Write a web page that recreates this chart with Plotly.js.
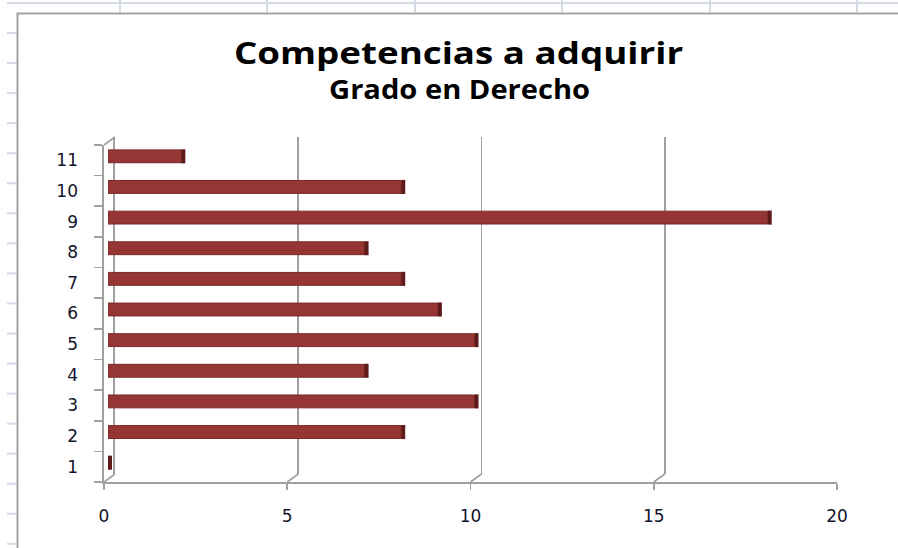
<!DOCTYPE html>
<html>
<head>
<meta charset="utf-8">
<script src="https://cdn.plot.ly/plotly-3.0.1.min.js"></script>
<style>
html,body{margin:0;padding:0;background:#fff;}
#chart{width:898px;height:548px;}
#chart .gtitle{transform-box:fill-box;transform-origin:center;transform:scaleX(1.185);}
#chart .annotation-text{transform-box:fill-box;transform-origin:center;transform:scaleX(1.12);}
</style>
</head>
<body>
<div id="chart"></div>
<script>
// ---- data ----
const categories = ['1','2','3','4','5','6','7','8','9','10','11'];
const values = [0, 8, 10, 7, 10, 9, 8, 7, 18, 8, 2];
const xTickVals = [0, 5, 10, 15, 20];
const xTickText = ['0', '5', '10', '15', '20'];
const titleText = 'Competencias a adquirir';
const subtitleText = 'Grado en Derecho';

// ---- geometry helpers (pixels -> paper) ----
const W = 898, H = 548;
const fx = x => x / W;
const fy = y => 1 - y / H;
const DEPTH_X = 11, DEPTH_Y = 8;   // 3-D depth offset of back wall
const FRONT = {x0: 104, x1: 837, yTop: 145, yBot: 482};

const shapes = [];
// spreadsheet background grid
const sheetLine = '#d5dbe6';
shapes.push({type:'line', xref:'paper', yref:'paper', x0:fx(7), x1:1, y0:fy(3), y1:fy(3), line:{color:sheetLine, width:2}, layer:'below'});
[120, 267, 415, 562, 710, 857].forEach(c => shapes.push({type:'line', xref:'paper', yref:'paper', x0:fx(c), x1:fx(c), y0:1, y1:fy(13), line:{color:sheetLine, width:2}, layer:'below'}));
for (let r = 33; r < H; r += 30.05) shapes.push({type:'line', xref:'paper', yref:'paper', x0:fx(7), x1:fx(17), y0:fy(r), y1:fy(r), line:{color:sheetLine, width:2}, layer:'below'});
// chart frame
shapes.push({type:'rect', xref:'paper', yref:'paper', x0:fx(17.5), x1:fx(910), y0:fy(13.5), y1:fy(560), line:{color:'#a3a3a3', width:2}, fillcolor:'#ffffff', layer:'below'});

// 3-D box connectors
const boxLine = {color:'#a0a0a0', width:1.6};
shapes.push({type:'line', xref:'paper', yref:'paper', x0:fx(FRONT.x0), y0:fy(FRONT.yTop), x1:fx(FRONT.x0 + DEPTH_X), y1:fy(FRONT.yTop - DEPTH_Y), line:boxLine});
xTickVals.forEach(v => shapes.push({type:'line', xref:'x', yref:'paper', xsizemode:'pixel', xanchor:v, x0:0, x1:DEPTH_X, y0:fy(FRONT.yBot), y1:fy(FRONT.yBot - DEPTH_Y), line:boxLine}));

const tickFont = {family:'DejaVu Sans, Verdana, sans-serif', size:17, color:'#14142a'};

const traces = [
  {type:'scatter', x:[], y:[], xaxis:'x2', yaxis:'y2', hoverinfo:'skip', showlegend:false},
  {type:'bar', orientation:'h', y:categories, x:values, xaxis:'x3', yaxis:'y3', width:0.42,
   marker:{color:'#963634', line:{color:'#7a2927', width:1}}, showlegend:false, hoverinfo:'x+y'},
  {type:'bar', orientation:'h', y:categories, x:values.map(() => 0.11), base:values, xaxis:'x3', yaxis:'y3', width:0.46,
   marker:{color:'#5e1b19', line:{width:0}}, showlegend:false, hoverinfo:'skip'}
];

const layout = {
  width: W, height: H,
  margin: {l:0, r:0, t:0, b:0},
  paper_bgcolor: '#ffffff',
  plot_bgcolor: 'rgba(0,0,0,0)',
  barmode: 'overlay',
  showlegend: false,
  title: {text: titleText, x: fx(458.5), xanchor:'center', y: fy(53), yanchor:'middle', yref:'container',
          font:{family:'Open Sans, sans-serif', size:31, color:'#000', weight:'bold'}},
  annotations: [{text: subtitleText, xref:'paper', yref:'paper', x: fx(459), y: fy(89), xanchor:'center', yanchor:'middle', showarrow:false,
          font:{family:'Open Sans, sans-serif', size:26, color:'#000', weight:'bold'}}],
  xaxis: {domain:[fx(FRONT.x0), fx(FRONT.x1)], range:[0,20], anchor:'y', tickvals:xTickVals, ticktext:xTickText,
          ticks:'outside', ticklen:6, tickwidth:1.6, tickcolor:'#a0a0a0', showline:true, linecolor:'#a0a0a0', linewidth:1.6,
          showgrid:false, zeroline:false, tickfont:tickFont, ticklabelstandoff:12, fixedrange:true},
  yaxis: {domain:[fy(FRONT.yBot), fy(FRONT.yTop)], type:'category', categoryorder:'array', categoryarray:categories,
          range:[-0.5, 10.5], anchor:'x', ticks:'outside', tickson:'boundaries', ticklen:8, tickwidth:1.6, tickcolor:'#a0a0a0',
          showline:true, linecolor:'#a0a0a0', linewidth:1.6, showgrid:false, zeroline:false, tickfont:tickFont,
          ticklabelstandoff:21, fixedrange:true},
  xaxis2: {domain:[fx(FRONT.x0 + DEPTH_X), fx(FRONT.x1 + DEPTH_X)], range:[0,20], anchor:'y2',
           dtick:5, tick0:0, showgrid:true, gridcolor:'#a0a0a0', gridwidth:1.6, showticklabels:false, ticks:'',
           showline:false, zeroline:false, fixedrange:true},
  yaxis2: {domain:[fy(FRONT.yBot - DEPTH_Y), fy(FRONT.yTop - DEPTH_Y)], range:[0,1], anchor:'x2',
           showgrid:false, showticklabels:false, ticks:'', showline:true, linecolor:'#a0a0a0', linewidth:1.6,
           zeroline:false, fixedrange:true},
  xaxis3: {domain:[fx(FRONT.x0 + 4), fx(FRONT.x1 + 4)], range:[0,20], anchor:'y3', visible:false, fixedrange:true},
  yaxis3: {domain:[fy(FRONT.yBot - 4), fy(FRONT.yTop - 4)], type:'category', categoryorder:'array', categoryarray:categories,
           range:[-0.5, 10.5], anchor:'x3', visible:false, fixedrange:true},
  shapes: shapes
};

Plotly.newPlot('chart', traces, layout, {displayModeBar:false, staticPlot:true});
</script>
</body>
</html>
